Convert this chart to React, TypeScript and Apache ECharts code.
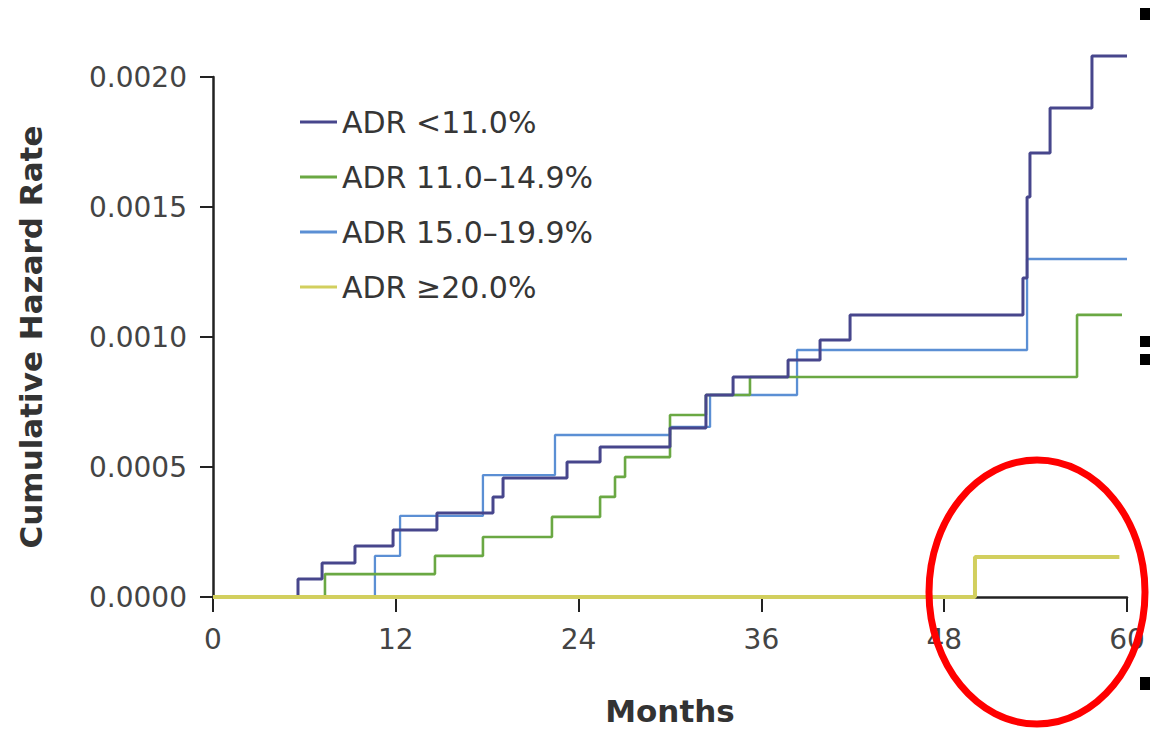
import React, { useEffect, useRef } from "react";
import * as echarts from "echarts";

// ---- Data ----
const seriesNames = ["ADR <11.0%", "ADR 11.0–14.9%", "ADR 15.0–19.9%", "ADR ≥20.0%"];

const xTicks = [0, 12, 24, 36, 48, 60];
const yTicks = [0, 0.0005, 0.001, 0.0015, 0.002];

const adrLowMonths = [0, 5.58, 7.16, 9.32, 11.82, 14.7, 18.38, 19.04, 23.24, 25.41, 30.0, 32.36, 34.14, 37.75, 39.85, 41.82, 53.17, 53.44, 53.63, 54.95, 57.7, 60];
const adrLowValues = [0, 0.000069, 0.000131, 0.000196, 0.000258, 0.000323, 0.000385, 0.000458, 0.000519, 0.000577, 0.00065, 0.000777, 0.000846, 0.000912, 0.000988, 0.001085, 0.001227, 0.001538, 0.001708, 0.001881, 0.002081, 0.002081];

const adrMidMonths = [0, 7.35, 14.57, 17.72, 22.25, 25.41, 26.39, 27.05, 30.0, 32.36, 35.25, 56.72, 59.67];
const adrMidValues = [0, 0.000088, 0.000158, 0.000231, 0.000308, 0.000385, 0.000462, 0.000538, 0.0007, 0.000777, 0.000846, 0.001085, 0.001085];

const adrHighMonths = [0, 10.63, 12.28, 17.72, 22.45, 30.0, 32.63, 38.34, 53.44, 60];
const adrHighValues = [0, 0.000158, 0.000312, 0.000469, 0.000623, 0.000654, 0.000777, 0.00095, 0.0013, 0.0013];

const adrTopMonths = [0, 50.02, 59.5];
const adrTopValues = [0, 0.000154, 0.000154];

const colors = ["#47468c", "#6aa843", "#5b8fd4", "#d2cf5e"];

const pairs = (xs: number[], ys: number[]) => xs.map((x, i) => [x, ys[i]]);

export default function App() {
  const ref = useRef<HTMLDivElement>(null);

  useEffect(() => {
    if (!ref.current) return;
    const chart = echarts.init(ref.current, undefined, { renderer: "svg" });
    const font = "DejaVu Sans";
    const option: any = {
      animation: false,
      backgroundColor: "#ffffff",
      grid: { left: 213, right: 23, top: 77, bottom: 134, containLabel: false },
      legend: {
        show: true,
        orient: "vertical",
        left: 295,
        top: 102,
        icon: "rect",
        itemWidth: 37,
        itemHeight: 3,
        itemGap: 25,
        data: seriesNames,
        textStyle: { fontFamily: font, fontSize: 30, color: "#363636", lineHeight: 30 },
      },
      xAxis: {
        type: "value",
        min: xTicks[0],
        max: xTicks[xTicks.length - 1],
        interval: 12,
        name: "Months",
        nameLocation: "middle",
        nameGap: 98,
        nameTextStyle: { fontFamily: font, fontSize: 31, fontWeight: "bold", color: "#333" },
        axisLine: { show: true, onZero: false, lineStyle: { color: "#222", width: 2.5 } },
        axisTick: { show: true, length: 15, lineStyle: { color: "#222", width: 2 } },
        axisLabel: { fontFamily: font, fontSize: 28, color: "#444", margin: 28 },
        splitLine: { show: false },
      },
      yAxis: {
        type: "value",
        min: yTicks[0],
        max: yTicks[yTicks.length - 1],
        interval: 0.0005,
        name: "Cumulative Hazard Rate",
        nameLocation: "middle",
        nameGap: 167,
        nameRotate: 90,
        nameTextStyle: { fontFamily: font, fontSize: 31, fontWeight: "bold", color: "#333" },
        axisLine: { show: true, lineStyle: { color: "#222", width: 2.5 } },
        axisTick: { show: true, length: 13, lineStyle: { color: "#222", width: 2 } },
        axisLabel: {
          fontFamily: font,
          fontSize: 28,
          color: "#444",
          margin: 26,
          formatter: (v: number) => v.toFixed(4),
        },
        splitLine: { show: false },
      },
      series: [
        {
          name: seriesNames[2],
          type: "line",
          step: "end",
          showSymbol: false,
          data: pairs(adrHighMonths, adrHighValues),
          lineStyle: { color: colors[2], width: 2.3 },
          itemStyle: { color: colors[2] },
          z: 2,
        },
        {
          name: seriesNames[1],
          type: "line",
          step: "end",
          showSymbol: false,
          data: pairs(adrMidMonths, adrMidValues),
          lineStyle: { color: colors[1], width: 2.6 },
          itemStyle: { color: colors[1] },
          z: 3,
        },
        {
          name: seriesNames[0],
          type: "line",
          step: "end",
          showSymbol: false,
          clip: false,
          data: pairs(adrLowMonths, adrLowValues),
          lineStyle: { color: colors[0], width: 3 },
          itemStyle: { color: colors[0] },
          z: 4,
        },
        {
          name: seriesNames[3],
          type: "line",
          step: "end",
          showSymbol: false,
          data: pairs(adrTopMonths, adrTopValues),
          lineStyle: { color: colors[3], width: 4 },
          itemStyle: { color: colors[3] },
          z: 5,
        },
      ],
      graphic: [
        {
          type: "ellipse",
          shape: { cx: 1037, cy: 592, rx: 108, ry: 132 },
          style: { fill: "none", stroke: "#ff0000", lineWidth: 7 },
          z: 100,
        },
        { type: "rect", shape: { x: 1140, y: 8, width: 10, height: 12 }, style: { fill: "#000" }, z: 100 },
        { type: "rect", shape: { x: 1140, y: 336, width: 10, height: 11 }, style: { fill: "#000" }, z: 100 },
        { type: "rect", shape: { x: 1140, y: 354, width: 10, height: 11 }, style: { fill: "#000" }, z: 100 },
        { type: "rect", shape: { x: 1140, y: 677, width: 10, height: 13 }, style: { fill: "#000" }, z: 100 },
      ],
    };
    chart.setOption(option);
    return () => chart.dispose();
  }, []);

  return (
    <div
      ref={ref}
      style={{ position: "absolute", left: 0, top: 0, width: 1150, height: 731, background: "#fff" }}
    />
  );
}
